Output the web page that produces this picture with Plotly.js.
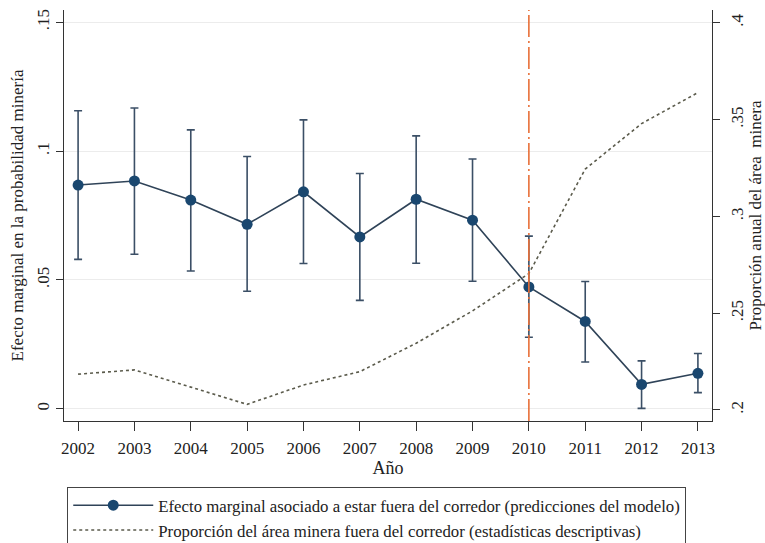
<!DOCTYPE html>
<html>
<head>
<meta charset="utf-8">
<script src="https://cdn.plot.ly/plotly-3.0.1.min.js"></script>
<style>html,body{margin:0;padding:0;background:#fff;}#chart{width:765px;height:543px;}</style>
</head>
<body>
<div id="chart"></div>
<script>
// Data
const years = [2002, 2003, 2004, 2005, 2006, 2007, 2008, 2009, 2010, 2011, 2012, 2013];
const efecto = [0.0868, 0.0884, 0.0810, 0.0716, 0.0842, 0.0667, 0.0813, 0.0732, 0.0473, 0.0339, 0.0095, 0.0138];
const efectoSup = [0.1156, 0.1167, 0.1082, 0.0979, 0.1121, 0.0913, 0.1059, 0.0969, 0.0670, 0.0494, 0.0186, 0.0215];
const efectoInf = [0.0580, 0.0600, 0.0535, 0.0456, 0.0564, 0.0421, 0.0565, 0.0495, 0.0278, 0.0182, 0.0002, 0.0063];
const proporcion = [0.2185, 0.2207, 0.2118, 0.2029, 0.2129, 0.2198, 0.2345, 0.2512, 0.2705, 0.3245, 0.3480, 0.3640];
const leftTicks = [0, 0.05, 0.1, 0.15];
const leftTickText = ['0', '.05', '.1', '.15'];
const rightTicks = [0.2, 0.25, 0.3, 0.35, 0.4];
const rightTickText = ['.2', '.25', '.3', '.35', '.4'];
const corteAnio = 2010;

const serif = "'Liberation Serif', 'Times New Roman', serif";

const trace1 = {
  x: years, y: efecto, type: 'scatter', mode: 'lines+markers',
  name: 'Efecto marginal asociado a estar fuera del corredor (predicciones del modelo)',
  line: {color: '#2f4358', width: 1.6},
  marker: {color: '#1a476f', size: 11},
  error_y: {
    type: 'data', symmetric: false,
    array: efectoSup.map((v, i) => v - efecto[i]),
    arrayminus: efecto.map((v, i) => v - efectoInf[i]),
    color: '#3b4f66', thickness: 1.6, width: 4
  },
  yaxis: 'y'
};
const trace2 = {
  x: years, y: proporcion, type: 'scatter', mode: 'lines',
  name: 'Proporción del área minera fuera del corredor (estadísticas descriptivas)',
  line: {color: '#5b5b4c', width: 1.6, dash: 'dot'},
  yaxis: 'y2'
};

const tf = {family: serif, size: 17, color: '#222'};

const layout = {
  width: 765, height: 543,
  margin: {l: 64, r: 53, t: 10, b: 122, autoexpand: false},
  paper_bgcolor: '#fff', plot_bgcolor: '#fff',
  font: {family: serif, color: '#222', size: 17},
  showlegend: true,
  legend: {
    x: 0.005, xanchor: 'left', y: -0.16, yanchor: 'top',
    bordercolor: '#444', borderwidth: 1, bgcolor: '#fff',
    font: {family: serif, size: 16.8, color: '#222'},
    itemwidth: 80, tracegroupgap: 0
  },
  xaxis: {
    range: [2001.75, 2013.25], tickvals: years, ticktext: years.map(String),
    ticks: 'outside', ticklen: 9, tickcolor: '#333', showline: true, linecolor: '#333', linewidth: 1,
    showgrid: false, zeroline: false, tickfont: tf, ticklabelstandoff: 3,
    title: {text: 'Año', font: {family: serif, size: 18, color: '#222'}, standoff: 3}
  },
  yaxis: {
    range: [-0.0047, 0.1547], tickvals: leftTicks, ticktext: leftTickText, tickangle: -90,
    ticks: 'outside', ticklen: 7, tickcolor: '#333', showline: true, linecolor: '#333', linewidth: 1,
    showgrid: true, gridcolor: '#ececec', zeroline: false, tickfont: tf,
    title: {text: 'Efecto marginal en la probabilidad minería', font: {family: serif, size: 17, color: '#222'}, standoff: 6}
  },
  yaxis2: {
    overlaying: 'y', side: 'right',
    range: [0.1943, 0.4067], tickvals: rightTicks, ticktext: rightTickText, tickangle: -90,
    ticks: 'outside', ticklen: 7, tickcolor: '#333', showline: true, linecolor: '#333', linewidth: 1,
    showgrid: false, zeroline: false, tickfont: tf, ticklabelstandoff: 3,
    title: {text: 'Proporción anual del área  minera', font: {family: serif, size: 17, color: '#222'}, standoff: 0}
  },
  shapes: [{
    type: 'line', xref: 'x', yref: 'paper', x0: corteAnio, x1: corteAnio, y0: 0, y1: 1,
    line: {color: '#e8703a', width: 1.6, dash: '22px,4px,2px,4px'}
  }]
};

Plotly.newPlot('chart', [trace1, trace2], layout, {displayModeBar: false, staticPlot: true});
</script>
</body>
</html>
